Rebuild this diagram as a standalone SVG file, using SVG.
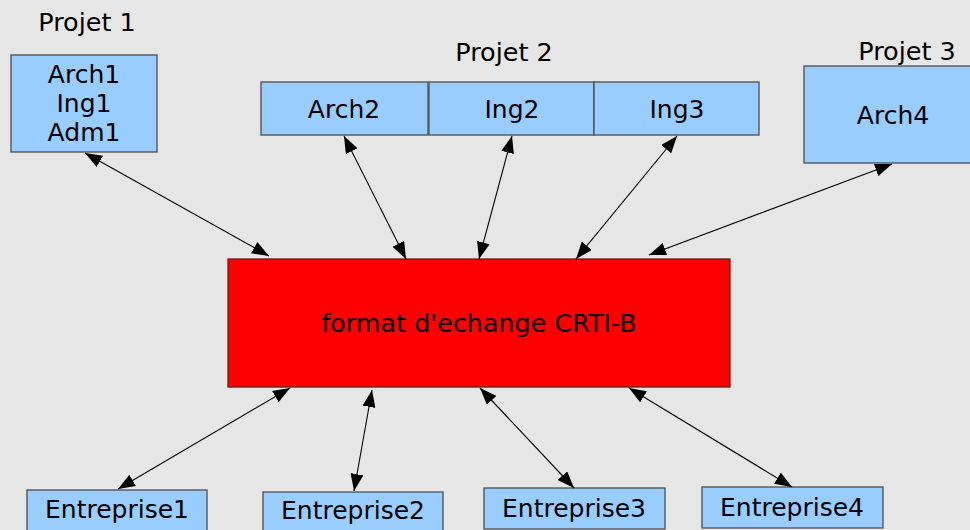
<svg xmlns="http://www.w3.org/2000/svg" width="970" height="530" viewBox="0 0 970 530">
<defs>
<style>
text{font-family:"DejaVu Sans","Liberation Sans",sans-serif;font-size:25px;fill:#000;text-anchor:middle}
.lbl{font-size:25.5px}
.box{fill:#99ccff;stroke:#4d4d4d;stroke-width:1.3}
.core{fill:#ff0000;stroke:#6b1a1a;stroke-width:1.3}
.conn line{stroke:#000;stroke-width:1.1;marker-start:url(#ah);marker-end:url(#ah)}
</style>
<marker id="ah" markerUnits="userSpaceOnUse" markerWidth="17" markerHeight="13" refX="17" refY="6.5" orient="auto-start-reverse" viewBox="0 0 17 13">
<path d="M0,0 L17,6.5 L0,13 z" fill="#000"/>
</marker>
</defs>
<rect x="0" y="0" width="970" height="530" fill="#e6e6e6"/>

<g id="labels">
<text class="lbl" x="87" y="31">Projet 1</text>
<text class="lbl" x="504" y="61">Projet 2</text>
<text class="lbl" x="907" y="60">Projet 3</text>
</g>

<g id="projet1">
<rect class="box" x="11" y="55" width="146" height="97"/>
<text x="84" y="83">Arch1</text>
<text x="84" y="112">Ing1</text>
<text x="84" y="141">Adm1</text>
</g>

<g id="arch2">
<rect class="box" x="261" y="82" width="167" height="53"/>
<text x="344" y="118">Arch2</text>
</g>
<g id="ing2">
<rect class="box" x="429" y="82" width="165" height="53"/>
<text x="512" y="118">Ing2</text>
</g>
<g id="ing3">
<rect class="box" x="594" y="82" width="165" height="53"/>
<text x="677" y="118">Ing3</text>
</g>

<g id="arch4">
<rect class="box" x="804" y="66" width="178" height="97"/>
<text x="893" y="124">Arch4</text>
</g>

<g id="crti">
<rect class="core" x="228" y="259" width="502" height="128"/>
<text x="479" y="332" style="font-size:25.4px">format d'echange CRTI-B</text>
</g>

<g id="entreprise1">
<rect class="box" x="27" y="490" width="180" height="44"/>
<text x="117" y="518">Entreprise1</text>
</g>
<g id="entreprise2">
<rect class="box" x="263" y="492" width="180" height="44"/>
<text x="353" y="519">Entreprise2</text>
</g>
<g id="entreprise3">
<rect class="box" x="484" y="488" width="181" height="41"/>
<text x="574" y="517">Entreprise3</text>
</g>
<g id="entreprise4">
<rect class="box" x="702" y="487" width="181" height="41"/>
<text x="792" y="516">Entreprise4</text>
</g>

<g id="connectors" class="conn">
<line x1="85" y1="153" x2="269" y2="256"/>
<line x1="344" y1="136" x2="406" y2="259"/>
<line x1="512" y1="136" x2="479" y2="259"/>
<line x1="677" y1="136" x2="576" y2="259"/>
<line x1="892" y1="164" x2="649" y2="255"/>
<line x1="290" y1="388" x2="118" y2="489"/>
<line x1="372" y1="390" x2="354" y2="491"/>
<line x1="480" y1="388" x2="574" y2="488"/>
<line x1="629" y1="388" x2="792" y2="487"/>
</g>
</svg>
